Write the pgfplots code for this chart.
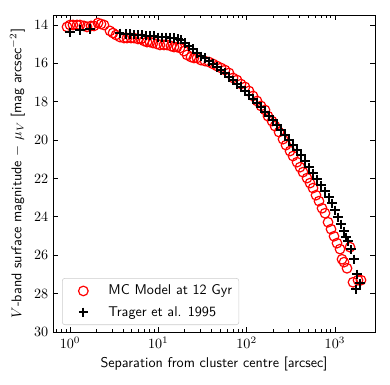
\RequirePackage{fix-cm}
\documentclass[border=0pt]{standalone}
\usepackage{pgfplots}
\pgfplotsset{compat=1.18}

% surface brightness profile: model vs. Trager et al. (1995)
\pgfplotstableread{
x y
0.925 14.10
1.000 14.00
1.081 14.00
1.200 14.00
1.298 14.00
1.440 14.05
1.557 14.10
1.729 14.05
1.869 14.05
2.075 13.90
2.244 13.95
2.427 14.00
2.694 13.37
2.838 14.31
3.069 14.42
3.319 14.52
3.680 14.63
4.089 14.68
4.420 14.68
4.907 14.68
5.310 14.68
5.890 14.73
6.370 14.73
6.887 14.83
7.447 14.89
8.050 14.89
8.710 14.94
9.670 14.99
10.45 15.04
11.60 15.04
12.55 15.04
13.93 15.10
15.06 15.15
16.28 15.15
17.61 15.20
19.54 15.36
21.13 15.56
23.45 15.67
25.36 15.72
27.44 15.72
30.45 15.83
33.80 15.88
37.52 15.93
41.65 16.03
46.22 16.14
51.31 16.24
56.95 16.35
63.21 16.50
70.15 16.76
77.87 16.87
86.43 17.08
95.92 17.23
106.5 17.44
118.2 17.70
131.2 17.96
145.6 18.22
161.6 18.43
174.6 18.75
194.0 19.01
209.7 19.27
232.8 19.58
258.4 19.95
279.3 20.26
310.1 20.57
335.4 20.83
372.2 21.15
402.5 21.41
435.3 21.67
483.1 21.98
522.4 22.24
564.9 22.50
610.9 22.87
660.7 23.18
714.5 23.55
772.5 23.81
835.5 24.28
903.3 24.64
976.8 25.01
1056 25.37
1142 25.68
1203 26.21
1268 26.36
1371 26.68
1483 25.58
1603 27.41
1827 27.30
1975 27.30
}\modeltable

\pgfplotstableread{
x y
1.000 14.37
1.298 14.26
1.685 14.21
3.680 14.42
4.310 14.47
4.780 14.47
5.310 14.52
5.890 14.52
6.540 14.52
7.260 14.57
8.050 14.57
8.940 14.57
9.920 14.63
11.01 14.63
12.23 14.63
13.57 14.68
15.06 14.68
16.72 14.73
18.08 14.78
20.06 14.94
22.27 15.10
24.72 15.25
27.44 15.46
30.45 15.62
33.80 15.72
37.52 15.88
41.65 16.03
46.22 16.19
51.31 16.35
56.95 16.50
63.21 16.71
70.15 16.87
77.87 17.08
86.43 17.23
95.92 17.44
106.5 17.65
118.2 17.86
131.2 18.07
145.6 18.28
161.6 18.54
179.4 18.75
199.1 18.96
221.0 19.22
245.3 19.48
272.2 19.74
302.2 20.00
335.4 20.26
372.2 20.52
413.1 20.78
458.6 21.09
508.9 21.41
564.9 21.72
627.0 22.03
695.9 22.35
772.5 22.66
857.4 22.97
926.9 23.29
1002 23.65
1084 24.02
1172 24.38
1268 24.75
1336 25.06
1407 25.27
1522 25.69
1646 26.21
1780 26.99
1924 27.46
1734 27.77
}\tragertable

\begin{document}
\begin{tikzpicture}[font=\fontsize{10.6}{12.7}\selectfont]
\begin{axis}[
  scale only axis,
  width=241.5pt,
  height=237.75pt,
  xmode=log,
  xmin=0.642, xmax=2844,
  ymin=13.48, ymax=30,
  y dir=reverse,
  ytick={14,16,...,30},
  tick align=inside,
  major tick length=3.6pt,
  minor tick length=2pt,
  every tick/.style={black, line width=0.6pt},
  axis line style={line width=0.6pt},
  tick label style={font=\fontsize{10.6}{12.7}\selectfont},
  label style={font=\fontsize{10.6}{12.7}\selectfont},
  xlabel={\sffamily Separation from cluster centre [arcsec]},
  ylabel={\sffamily $V$-band surface magnitude $-\ \mu_V$ [mag arcsec$^{-2}$]},
  legend style={at={(0.028,0.022)}, anchor=south west, draw=black!20,
    rounded corners=2pt, font=\fontsize{10.6}{12.7}\selectfont\sffamily,
    row sep=3pt, inner xsep=3pt, inner ysep=3pt},
  legend cell align=left,
  legend image code/.code={
    \draw[mark repeat=2, mark phase=2, #1]
      plot coordinates {(0pt,0pt) (12pt,0pt) (24pt,0pt)};
    \path (0pt,0pt) (28pt,0pt);
  },
]
\addplot[only marks, mark=o, mark size=3.6pt, draw=red, line width=0.9pt]
  table {\modeltable};
\addlegendentry{MC Model at 12 Gyr}
\addplot[only marks, mark=+, mark size=3.4pt, draw=black, line width=1.6pt]
  table {\tragertable};
\addlegendentry{Trager et al. 1995}
\end{axis}
\pgfresetboundingbox
\path ([shift={(-39.75pt,-39.75pt)}]current axis.south west)
  rectangle ([shift={(11.25pt,11.25pt)}]current axis.north east);
\end{tikzpicture}
\end{document}
